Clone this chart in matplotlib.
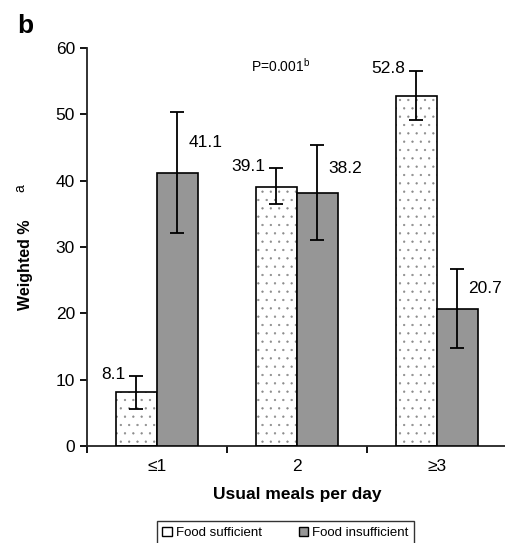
import numpy as np
import matplotlib
matplotlib.use('Agg')
import matplotlib.pyplot as plt
from matplotlib.patches import Patch

plt.rcParams['font.family'] = ['Liberation Sans', 'DejaVu Sans']
plt.rcParams['hatch.linewidth'] = 0.4

categories = ['\u22641', '2', '\u22653']
sufficient = [8.1, 39.1, 52.8]
suff_low = [5.6, 36.5, 49.2]
suff_high = [10.5, 41.9, 56.6]
insufficient = [41.1, 38.2, 20.7]
insuff_low = [32.1, 31.1, 14.8]
insuff_high = [50.3, 45.4, 26.7]


def main():
    fig = plt.figure(figsize=(5.05, 5.43), dpi=100)
    ax = fig.add_axes([0.172, 0.1786, 0.8317, 0.733])

    x = np.arange(len(categories))
    w = 0.293
    off = 0.146
    xs = x - off
    xi = x + off

    # dotted bars: hatch in gray, then black outline on top
    ax.bar(xs, sufficient, w, color='white', edgecolor='#8a8a8a', hatch='..',
           linewidth=0, zorder=2)
    ax.bar(xs, sufficient, w, fill=False, edgecolor='black', linewidth=1.2, zorder=3)
    ax.bar(xi, insufficient, w, color='#969696', edgecolor='black', linewidth=1.2,
           zorder=3)

    s = np.array(sufficient)
    i = np.array(insufficient)
    ax.errorbar(xs, s, yerr=[s - np.array(suff_low), np.array(suff_high) - s],
                fmt='none', ecolor='black', elinewidth=1.3, capsize=5,
                capthick=1.3, zorder=4)
    ax.errorbar(xi, i, yerr=[i - np.array(insuff_low), np.array(insuff_high) - i],
                fmt='none', ecolor='black', elinewidth=1.3, capsize=5,
                capthick=1.3, zorder=4)

    for k in range(len(categories)):
        ax.text(xs[k] - 0.079, suff_high[k] + 0.3, '{:.1f}'.format(sufficient[k]),
                ha='right', va='center', fontsize=12.5)
        ax.text(xi[k] + 0.079, (insufficient[k] + insuff_high[k]) / 2,
                '{:.1f}'.format(insufficient[k]), ha='left', va='center',
                fontsize=12.5)

    ax.set_xlim(-0.5, 2.5)
    ax.set_ylim(0, 60)
    ax.set_yticks(np.arange(0, 61, 10))
    ax.set_xticks(x)
    ax.set_xticklabels(categories, fontsize=12.5)
    ax.set_xticks([-0.5, 0.5, 1.5], minor=True)
    ax.tick_params(axis='x', which='major', length=0, pad=9)
    ax.tick_params(axis='x', which='minor', length=5, width=1.3, direction='out')
    ax.tick_params(axis='y', labelsize=12.5, length=5, width=1.3, direction='out')
    for side in ['top', 'right']:
        ax.spines[side].set_visible(False)
    for side in ['left', 'bottom']:
        ax.spines[side].set_linewidth(1.3)
        ax.spines[side].set_color('#222222')

    ax.set_xlabel('Usual meals per day', fontsize=12.5, fontweight='bold',
                  labelpad=10)
    ax.set_ylabel('Weighted %', fontsize=11.5, fontweight='bold')
    ax.yaxis.set_label_coords(-0.129, 0.455)
    fig.text(0.040, 0.654, 'a', rotation=90, fontsize=10, ha='center', va='center')

    ax.text(0.462, 0.955, r'P=0.001$^{\mathregular{b}}$', transform=ax.transAxes,
            ha='center', va='center', fontsize=10)
    fig.text(0.050, 0.953, 'b', fontsize=19, fontweight='bold', ha='center',
             va='center')

    handles = [Patch(facecolor='white', edgecolor='black', linewidth=1),
               Patch(facecolor='#969696', edgecolor='black', linewidth=1)]
    leg = fig.legend(handles, ['Food sufficient', 'Food insufficient'], ncol=2,
                     loc='upper center', fontsize=9.5, frameon=True,
                     fancybox=False, handlelength=0.7, handleheight=0.7,
                     handletextpad=0.3, columnspacing=2.8, borderpad=0.45,
                     borderaxespad=0, bbox_to_anchor=(0.565, 1 - 521 / 543))
    leg.get_frame().set_edgecolor('black')
    leg.get_frame().set_linewidth(1)

    fig.savefig('out.png', dpi=100)
    return 0


if __name__ == '__main__':
    main()
